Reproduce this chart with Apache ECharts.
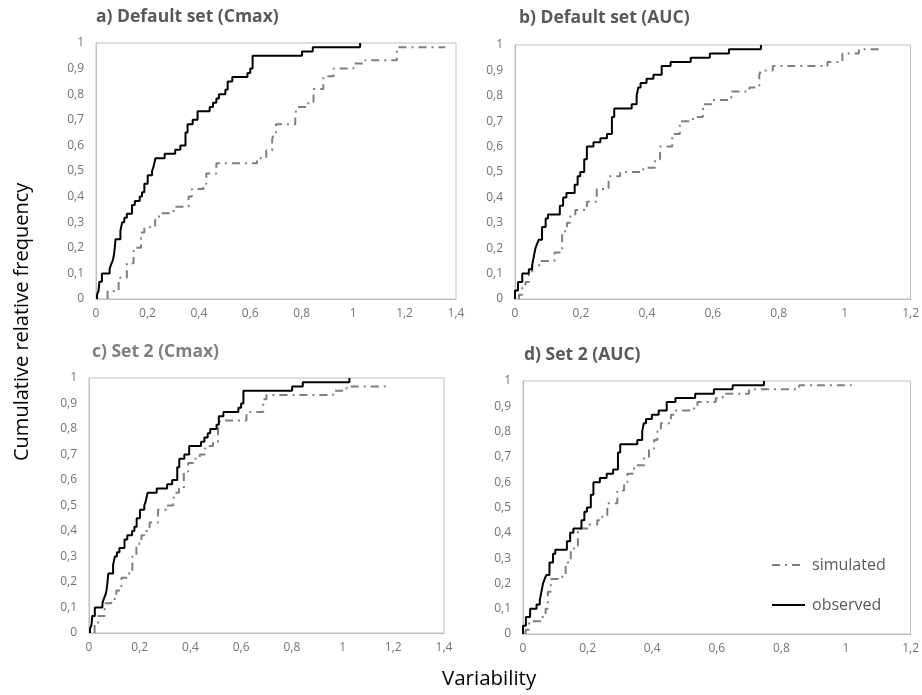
<!DOCTYPE html>
<html>
<head>
<meta charset="utf-8">
<script src="https://cdn.jsdelivr.net/npm/echarts@6/dist/echarts.min.js"></script>
<style>html,body{margin:0;padding:0;background:#fff}#c{width:922px;height:695px}</style>
</head>
<body>
<div id="c"></div>
<script>
// Observed Cmax (same in panels a and c)
var obsCmaxX = [0.004,0.010,0.013,0.023,0.053,0.058,0.065,0.069,0.073,0.076,0.095,0.102,0.110,0.120,0.140,0.151,0.170,0.179,0.188,0.201,0.218,0.224,0.231,0.267,0.308,0.328,0.348,0.356,0.376,0.395,0.442,0.455,0.468,0.478,0.503,0.512,0.530,0.589,0.600,0.609,0.801,0.843,1.027];
var obsCmaxY = [0.017,0.033,0.067,0.100,0.117,0.133,0.150,0.167,0.200,0.233,0.267,0.300,0.317,0.333,0.367,0.383,0.400,0.417,0.450,0.483,0.500,0.517,0.550,0.567,0.583,0.600,0.650,0.683,0.700,0.733,0.750,0.767,0.783,0.800,0.817,0.850,0.867,0.883,0.900,0.950,0.967,0.983,1.000];
// Simulated Cmax, default set (panel a)
var simCmaxDefX = [0.045,0.088,0.120,0.146,0.175,0.188,0.230,0.245,0.302,0.360,0.373,0.418,0.429,0.468,0.626,0.662,0.685,0.690,0.700,0.775,0.781,0.826,0.846,0.884,0.924,1.001,1.047,1.170,1.358];
var simCmaxDefY = [0.030,0.083,0.140,0.200,0.260,0.280,0.310,0.335,0.360,0.400,0.430,0.450,0.490,0.530,0.550,0.580,0.620,0.650,0.683,0.720,0.750,0.770,0.820,0.870,0.900,0.920,0.933,0.983,0.983];
// Simulated Cmax, set 2 (panel c)
var simCmaxSet2X = [0.022,0.036,0.062,0.088,0.108,0.128,0.154,0.171,0.187,0.207,0.224,0.239,0.272,0.305,0.332,0.337,0.355,0.374,0.391,0.411,0.437,0.458,0.489,0.509,0.516,0.621,0.687,0.700,0.963,1.016,1.167];
var simCmaxSet2Y = [0.033,0.067,0.117,0.133,0.167,0.217,0.233,0.300,0.350,0.383,0.400,0.433,0.483,0.500,0.517,0.550,0.567,0.633,0.667,0.683,0.700,0.733,0.750,0.800,0.833,0.867,0.917,0.933,0.950,0.967,0.983];
// Observed AUC (same in panels b and d)
var obsAucX = [0.000,0.009,0.022,0.042,0.052,0.057,0.062,0.067,0.072,0.082,0.093,0.100,0.136,0.146,0.156,0.181,0.190,0.198,0.210,0.218,0.238,0.259,0.279,0.294,0.301,0.354,0.369,0.374,0.381,0.399,0.420,0.445,0.472,0.533,0.591,0.649,0.746];
var obsAucY = [0.033,0.067,0.100,0.117,0.133,0.167,0.200,0.217,0.233,0.283,0.317,0.333,0.367,0.400,0.417,0.450,0.483,0.500,0.550,0.600,0.617,0.633,0.650,0.717,0.750,0.767,0.800,0.833,0.850,0.867,0.883,0.917,0.933,0.950,0.967,0.983,1.000];
// Simulated AUC, default set (panel b)
var simAucDefX = [0.012,0.022,0.032,0.042,0.052,0.077,0.120,0.143,0.158,0.168,0.183,0.218,0.248,0.284,0.319,0.389,0.425,0.440,0.477,0.500,0.540,0.570,0.600,0.656,0.711,0.741,0.746,0.782,0.948,0.993,1.043,1.109];
var simAucDefY = [0.017,0.050,0.067,0.100,0.133,0.150,0.183,0.267,0.300,0.333,0.350,0.383,0.433,0.483,0.500,0.517,0.550,0.600,0.650,0.700,0.717,0.767,0.783,0.817,0.833,0.883,0.900,0.917,0.933,0.967,0.983,0.995];
// Simulated AUC, set 2 (panel d)
var simAucSet2X = [0.008,0.019,0.055,0.070,0.077,0.086,0.122,0.132,0.148,0.158,0.170,0.205,0.230,0.246,0.261,0.292,0.313,0.323,0.344,0.375,0.390,0.406,0.416,0.427,0.458,0.473,0.530,0.540,0.597,0.618,0.700,0.855,1.015];
var simAucSet2Y = [0.017,0.050,0.067,0.100,0.167,0.217,0.233,0.283,0.333,0.350,0.417,0.433,0.450,0.467,0.517,0.567,0.600,0.633,0.667,0.700,0.733,0.767,0.800,0.833,0.867,0.883,0.900,0.917,0.933,0.950,0.967,0.983,0.995];

var panelTitles = ['a) Default set (Cmax)','b) Default set (AUC)','c) Set 2 (Cmax)','d) Set 2 (AUC)'];
var xMax = [1.4,1.2,1.4,1.2];
var seriesNames = ['simulated','observed'];
var yAxisTitle = 'Cumulative relative frequency';
var xAxisTitle = 'Variability';

function pairs(xs, ys){ return xs.map(function(x,i){return [x, ys[i]];}); }
function comma(v){ return String(Math.round(v*10)/10).replace('.', ','); }

var grids = [
  {left:96, top:43, width:360, height:256},
  {left:515, top:45, width:398, height:254},
  {left:89, top:378, width:355, height:255},
  {left:523, top:381, width:388, height:253}
];
grids.forEach(function(g){ g.show=true; g.borderColor='#bfbfbf'; g.borderWidth=1; g.backgroundColor='transparent'; });

var labelStyle = {color:'#737373', fontSize:12, fontFamily:'Open Sans'};
var xAxes = [], yAxes = [];
for (var i=0;i<4;i++){
  xAxes.push({type:'value', gridIndex:i, min:0, max:xMax[i], interval:0.2,
    axisLine:{show:true, lineStyle:{color:'#bfbfbf'}}, axisTick:{show:false}, splitLine:{show:false},
    axisLabel:Object.assign({margin:9, formatter:comma}, labelStyle)});
  yAxes.push({type:'value', gridIndex:i, min:0, max:1, interval:0.1,
    axisLine:{show:true, lineStyle:{color:'#bfbfbf'}}, axisTick:{show:false}, splitLine:{show:false},
    axisLabel:Object.assign({margin:12, formatter:comma}, labelStyle)});
}

var simStyle = {color:'#7f7f7f', width:2, type:[8,5,2,5]};
var obsStyle = {color:'#000000', width:2, type:'solid'};
var simData = [pairs(simCmaxDefX, simCmaxDefY), pairs(simAucDefX, simAucDefY), pairs(simCmaxSet2X, simCmaxSet2Y), pairs(simAucSet2X, simAucSet2Y)];
var obsData = [pairs(obsCmaxX, obsCmaxY), pairs(obsAucX, obsAucY), pairs(obsCmaxX, obsCmaxY), pairs(obsAucX, obsAucY)];
simData = simData.map(function(d){ return [[d[0][0],0]].concat(d); });
obsData = obsData.map(function(d){ return [[d[0][0],0]].concat(d); });

var series = [];
for (var k=0;k<4;k++){
  series.push({name:seriesNames[0], type:'line', xAxisIndex:k, yAxisIndex:k, step:'end', symbol:'none',
    data:simData[k], lineStyle:simStyle, itemStyle:{color:'#7f7f7f'}, animation:false, z:2});
  series.push({name:seriesNames[1], type:'line', xAxisIndex:k, yAxisIndex:k, step:'end', symbol:'none',
    data:obsData[k], lineStyle:obsStyle, itemStyle:{color:'#000'}, animation:false, z:3});
}

var titleColors = ['#595959','#595959','#7f7f7f','#595959'];
var titlePos = [[96,8],[519,9],[92,343],[524,346]];
var titles = panelTitles.map(function(t,i){
  return {text:t, left:titlePos[i][0], top:titlePos[i][1], padding:0,
    textStyle:{color:titleColors[i], fontSize:17.5, fontWeight:'bold', fontFamily:'Open Sans'}};
});

var chart = echarts.init(document.getElementById('c'), null, {renderer:'canvas'});
chart.setOption({
  animation:false,
  backgroundColor:'#fff',
  title:titles,
  grid:grids,
  xAxis:xAxes,
  yAxis:yAxes,
  series:series,
  legend:{data:seriesNames, orient:'vertical', left:771, top:557, padding:0,
    itemWidth:33, itemHeight:18, itemGap:24, itemStyle:{opacity:0},
    textStyle:{color:'#595959', fontSize:16, fontFamily:'Open Sans', padding:[0,0,0,2]}, selectedMode:false},
  graphic:[
    {type:'text', x:12, y:461, rotation:Math.PI/2, style:{text:yAxisTitle, fill:'#000', fontSize:20, fontFamily:'Open Sans'}},
    {type:'text', x:442, y:669, style:{text:xAxisTitle, fill:'#000', fontSize:20.5, fontFamily:'Open Sans'}}
  ]
});
</script>
</body>
</html>
